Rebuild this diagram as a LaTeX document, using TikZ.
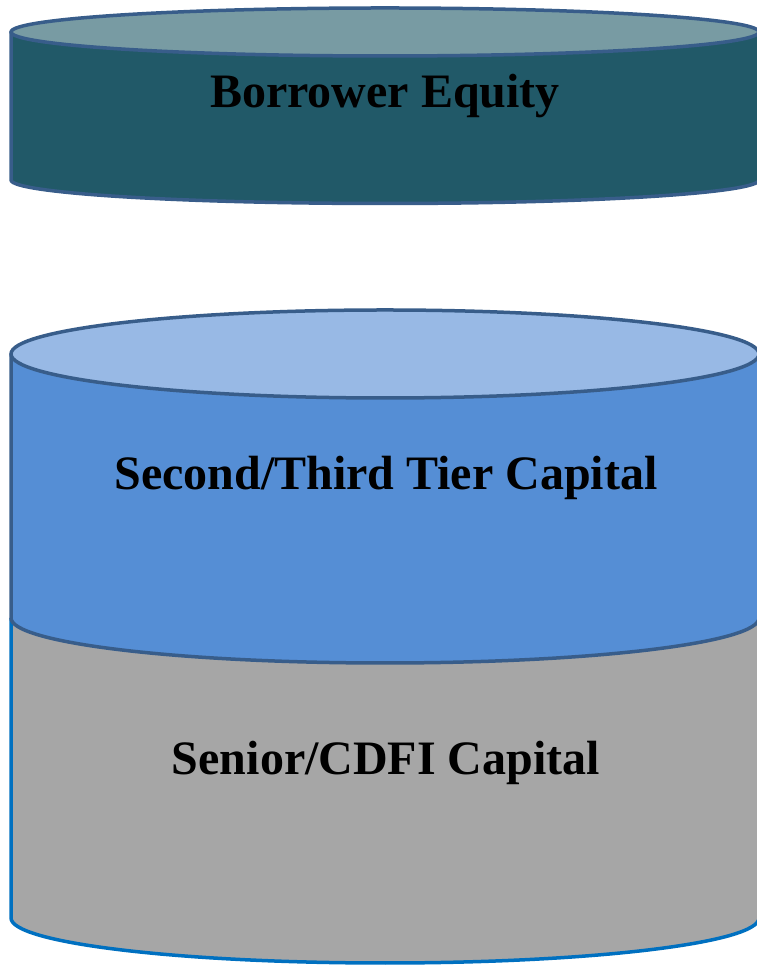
\documentclass[tikz,border=0pt]{standalone}
\usepackage{fontspec}
\setmainfont{Liberation Serif}
\usepackage{tikz}
\usetikzlibrary{shapes}

\definecolor{petrole}{RGB}{33,89,104}
\definecolor{petroleclair}{RGB}{120,155,163}
\definecolor{bleu}{RGB}{85,142,213}
\definecolor{bleuclair}{RGB}{152,185,229}
\definecolor{gris}{RGB}{166,166,166}
\definecolor{bordure}{RGB}{56,93,138}
\definecolor{bordgris}{RGB}{0,112,192}

\begin{document}
\begin{tikzpicture}[x=1pt,y=1pt,
couche/.style={line width=3.5pt,draw=bordure,line join=round},
titre/.style={font=\fontsize{48}{52}\selectfont\bfseries,anchor=base,inner sep=0pt}]
\useasboundingbox (0,0) rectangle (756,965);
% Borrower Equity
\filldraw[couche,fill=petrole] (11,933) -- (11,785) arc[start angle=180,end angle=360,x radius=374,y radius=23.5] -- (759,933) -- cycle;
\filldraw[couche,fill=petroleclair] (385,933) ellipse[x radius=374,y radius=24];
\node[titre] (equity) at (385,857) {Borrower Equity};
% Senior/CDFI
\fill[gris] (11,347) -- (11,47) arc[start angle=180,end angle=360,x radius=374,y radius=45] -- (759,347) -- cycle;
\draw[line width=3.5pt,draw=bordgris] (11,347) -- (11,47) arc[start angle=180,end angle=360,x radius=374,y radius=45] -- (759,347);
% Second/Third Tier
\filldraw[couche,fill=bleu] (11,611) -- (11,347) arc[start angle=180,end angle=360,x radius=374,y radius=45] -- (759,611) -- cycle;
\filldraw[couche,fill=bleuclair] (385,611) ellipse[x radius=374,y radius=44];
\node[titre] (tier) at (386,475) {Second/Third Tier Capital};
\node[titre] (senior) at (386,190) {Senior/CDFI Capital};
\end{tikzpicture}
\end{document}
